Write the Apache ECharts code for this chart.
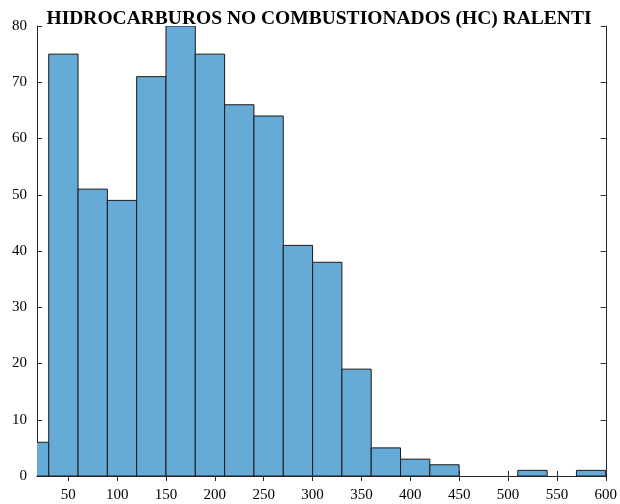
<!DOCTYPE html>
<html>
<head>
<meta charset="utf-8">
<script src="https://cdn.jsdelivr.net/npm/echarts@6/dist/echarts.min.js"></script>
<style>
  html, body { margin: 0; padding: 0; background: #fff; }
  #chart { width: 620px; height: 504px; }
</style>
</head>
<body>
<div id="chart"></div>
<script>
// Histogram bins: lower edges, upper edges and counts per bin
const binStart = [0, 30, 60, 90, 120, 150, 180, 210, 240, 270, 300, 330, 360, 390, 420, 450, 480, 510, 540, 570];
const binEnd   = [30, 60, 90, 120, 150, 180, 210, 240, 270, 300, 330, 360, 390, 420, 450, 480, 510, 540, 570, 600];
const counts   = [6, 75, 51, 49, 71, 80, 75, 66, 64, 41, 38, 19, 5, 3, 2, 0, 0, 1, 0, 1];
const xTicks   = [50, 100, 150, 200, 250, 300, 350, 400, 450, 500, 550, 600];
const title    = 'HIDROCARBUROS NO COMBUSTIONADOS (HC) RALENTI';

const data = binStart.map((s, i) => [s, binEnd[i], counts[i]]);

const font = 'Liberation Serif, Times New Roman, serif';
const axisColor = '#262626';

const chart = echarts.init(document.getElementById('chart'));
chart.setOption({
  animation: false,
  graphic: [{
    type: 'text',
    x: 319,
    y: 29,
    style: {
      text: title,
      fontFamily: font,
      fontSize: 19.5,
      fontWeight: 'bold',
      fill: '#000',
      align: 'center',
      verticalAlign: 'bottom'
    }
  }],
  grid: { left: 37, right: 14, top: 26, bottom: 28 },
  xAxis: [
    {
      type: 'value', min: 18, max: 600, position: 'bottom',
      axisLine: { show: true, lineStyle: { color: axisColor } },
      axisTick: { show: true, inside: true, length: 5, lineStyle: { color: axisColor }, customValues: xTicks },
      axisLabel: { fontFamily: font, fontSize: 15, color: '#000', margin: 12, customValues: xTicks },
      splitLine: { show: false }
    },
    {
      type: 'value', min: 18, max: 600, position: 'top',
      axisLine: { show: true, lineStyle: { color: axisColor } },
      axisTick: { show: true, inside: true, length: 5, lineStyle: { color: axisColor }, customValues: xTicks },
      axisLabel: { show: false },
      splitLine: { show: false }
    }
  ],
  yAxis: [
    {
      type: 'value', min: 0, max: 80, interval: 10, position: 'left',
      axisLine: { show: true, lineStyle: { color: axisColor } },
      axisTick: { show: true, inside: true, length: 5, lineStyle: { color: axisColor } },
      axisLabel: { fontFamily: font, fontSize: 15, color: '#000', margin: 10 },
      splitLine: { show: false }
    },
    {
      type: 'value', min: 0, max: 80, interval: 10, position: 'right',
      axisLine: { show: true, lineStyle: { color: axisColor } },
      axisTick: { show: true, inside: true, length: 5, lineStyle: { color: axisColor } },
      axisLabel: { show: false },
      splitLine: { show: false }
    }
  ],
  series: [{
    type: 'custom',
    clip: true,
    data: data,
    encode: { x: [0, 1], y: 2 },
    renderItem: function (params, api) {
      const h = api.value(2);
      if (!h) return null;
      const p0 = api.coord([api.value(0), 0]);
      const p1 = api.coord([api.value(1), h]);
      return {
        type: 'rect',
        shape: { x: p0[0], y: p1[1], width: p1[0] - p0[0], height: p0[1] - p1[1] },
        style: { fill: '#66aad7', stroke: '#1a1a1a', lineWidth: 1 }
      };
    }
  }]
});
</script>
</body>
</html>
